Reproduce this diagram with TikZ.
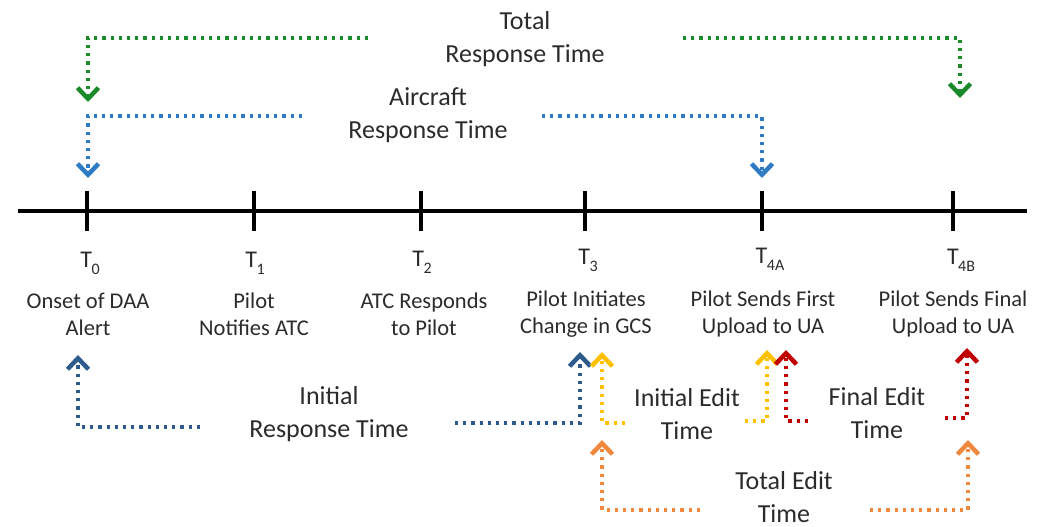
\documentclass[tikz,border=0pt]{standalone}
\usepackage{fontspec}
\setmainfont{Carlito}
\usetikzlibrary{arrows.meta}
\definecolor{cgreen}{HTML}{1B8A2A}
\definecolor{cblue}{HTML}{2E7BC4}
\definecolor{cdblue}{HTML}{2F5A8C}
\definecolor{cyellow}{HTML}{FFC000}
\definecolor{cred}{HTML}{C00000}
\definecolor{corange}{HTML}{F0883E}
\definecolor{ctext}{HTML}{2B2B2B}
\newcommand\tsub[1]{\kern-0.5pt\raisebox{-0.28em}{\fontsize{16}{16}\selectfont #1}}
\begin{document}
\begin{tikzpicture}[x=1pt,y=-1pt,
  dotline/.style={line width=3.4pt,dash pattern=on 3.2pt off 5pt,
    -{Straight Barb[length=11pt,width=21pt,line width=4.5pt]}},
  biglbl/.style={text=ctext,align=center,font=\fontsize{26}{33}\selectfont,inner sep=0pt},
  desclbl/.style={text=ctext,align=center,font=\fontsize{22.5}{27}\selectfont,inner sep=0pt},
  tlbl/.style={text=ctext,font=\fontsize{24}{27}\selectfont,inner sep=0pt},
  tick/.style={line width=4pt,black}]
\useasboundingbox (0,0) rectangle (1037,527);
% timeline
\coordinate (L) at (18,211);
\coordinate (R) at (1027,211);
\draw[line width=4pt,black] (L) -- (R);
\foreach \n/\x in {0/87,1/254,2/421,3/585,4/762,5/953}{
  \coordinate (tt\n) at (\x,191);
  \coordinate (tb\n) at (\x,231);
  \draw[tick] (tt\n) -- (tb\n);
}
% T labels
\node[tlbl] (T0) at (90,263) {T\tsub{0}};
\node[tlbl] (T1) at (255,263) {T\tsub{1}};
\node[tlbl] (T2) at (422,262) {T\tsub{2}};
\node[tlbl] (T3) at (588,260) {T\tsub{3}};
\node[tlbl] (T4A) at (770,259) {T\tsub{4A}};
\node[tlbl] (T4B) at (961,260) {T\tsub{4B}};
% descriptions
\node[desclbl] (D0) at (88,314) {Onset of DAA\\Alert};
\node[desclbl] (D1) at (254,314) {Pilot\\Notifies ATC};
\node[desclbl] (D2) at (424,314) {ATC Responds\\to Pilot};
\node[desclbl] (D3) at (586,314) {Pilot Initiates\\Change in GCS};
\node[desclbl] (D4) at (763,314) {Pilot Sends First\\Upload to UA};
\node[desclbl] (D5) at (953,314) {Pilot Sends Final\\Upload to UA};
% big labels
\node[biglbl] (TRT) at (525,39) {Total\\Response Time};
\node[biglbl] (ART) at (428,115) {Aircraft\\Response Time};
\node[biglbl] (IRT) at (329,414) {Initial\\Response Time};
\node[biglbl] (IET) at (687,414) {Initial Edit\\Time};
\node[biglbl] (FET) at (877,413) {Final Edit\\Time};
\node[biglbl] (TET) at (784,497) {Total Edit\\Time};
% green
\coordinate (g1) at (368,38); \coordinate (g1c) at (88,38); \coordinate (g1e) at (88,102);
\coordinate (g2) at (683,38); \coordinate (g2c) at (960,38); \coordinate (g2e) at (960,98);
\draw[dotline,cgreen] (g1) -- (g1c) -- (g1e);
\draw[dotline,cgreen] (g2) -- (g2c) -- (g2e);
% light blue
\coordinate (b1) at (302,116); \coordinate (b1c) at (88,116); \coordinate (b1e) at (88,178);
\coordinate (b2) at (542,116); \coordinate (b2c) at (762,116); \coordinate (b2e) at (762,178);
\draw[dotline,cblue] (b1) -- (b1c) -- (b1e);
\draw[dotline,cblue] (b2) -- (b2c) -- (b2e);
% dark blue
\coordinate (d1) at (200,427); \coordinate (d1c) at (78,427); \coordinate (d1e) at (78,355);
\coordinate (d2) at (455,423); \coordinate (d2c) at (580,423); \coordinate (d2e) at (580,352);
\draw[dotline,cdblue] (d1) -- (d1c) -- (d1e);
\draw[dotline,cdblue] (d2) -- (d2c) -- (d2e);
% yellow
\coordinate (y1) at (625,423); \coordinate (y1c) at (602,423); \coordinate (y1e) at (602,352);
\coordinate (y2) at (745,421); \coordinate (y2c) at (767,421); \coordinate (y2e) at (767,350);
\draw[dotline,cyellow] (y1) -- (y1c) -- (y1e);
\draw[dotline,cyellow] (y2) -- (y2c) -- (y2e);
% red
\coordinate (r1) at (808,421); \coordinate (r1c) at (786,421); \coordinate (r1e) at (786,350);
\coordinate (r2) at (945,418); \coordinate (r2c) at (967,418); \coordinate (r2e) at (967,348);
\draw[dotline,cred] (r1) -- (r1c) -- (r1e);
\draw[dotline,cred] (r2) -- (r2c) -- (r2e);
% orange
\coordinate (o1) at (700,510); \coordinate (o1c) at (602,510); \coordinate (o1e) at (602,440);
\coordinate (o2) at (870,510); \coordinate (o2c) at (968,510); \coordinate (o2e) at (968,440);
\draw[dotline,corange] (o1) -- (o1c) -- (o1e);
\draw[dotline,corange] (o2) -- (o2c) -- (o2e);
\end{tikzpicture}
\end{document}
